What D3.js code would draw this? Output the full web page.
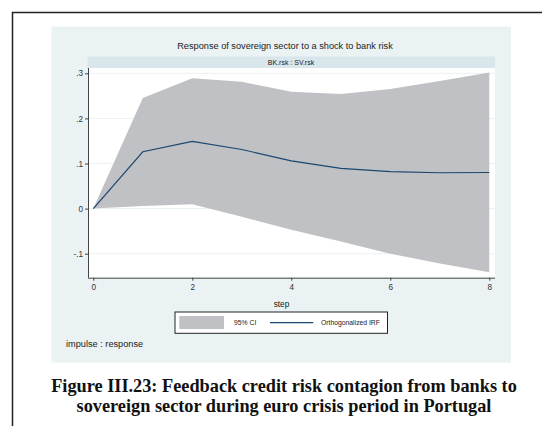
<!DOCTYPE html>
<html>
<head>
<meta charset="utf-8">
<script src="https://cdn.jsdelivr.net/npm/d3@7"></script>
<style>
  body { margin: 0; background: #fff; }
  svg { display: block; }
</style>
</head>
<body>
<svg width="542" height="426"></svg>
<script>
const steps = [0, 1, 2, 3, 4, 5, 6, 7, 8];
const irf = [0, 0.126, 0.149, 0.131, 0.106, 0.089, 0.082, 0.0795, 0.08];
const ciUpper = [0, 0.245, 0.289, 0.281, 0.259, 0.254, 0.265, 0.283, 0.302];
const ciLower = [0, 0.006, 0.0097, -0.018, -0.047, -0.073, -0.1, -0.122, -0.141];
const yTicks = [-0.1, 0, 0.1, 0.2, 0.3];
const yTickLabels = ["-.1", "0", ".1", ".2", ".3"];
const xTicks = [0, 2, 4, 6, 8];

const svg = d3.select("svg");

// page frame
svg.append("path")
    .attr("d", "M12.5,426 V12.5 H542")
    .attr("fill", "none")
    .attr("stroke", "#222")
    .attr("stroke-width", 1.5);

// graph background
svg.append("rect")
    .attr("x", 51.5).attr("y", 26.5)
    .attr("width", 459.5).attr("height", 336)
    .attr("fill", "#eaf2f3");

svg.append("text")
    .attr("x", 285).attr("y", 49)
    .attr("text-anchor", "middle")
    .attr("font-family", "Liberation Sans, Arial, sans-serif")
    .attr("font-size", 9.2)
    .attr("fill", "#222")
    .text("Response of sovereign sector to a shock to bank risk");

// strip
svg.append("rect")
    .attr("x", 87.5).attr("y", 56.5)
    .attr("width", 407.5).attr("height", 11.5)
    .attr("fill", "#d9e6eb");
svg.append("text")
    .attr("x", 291).attr("y", 64.5)
    .attr("text-anchor", "middle")
    .attr("font-family", "Liberation Sans, Arial, sans-serif")
    .attr("font-size", 7)
    .attr("fill", "#222")
    .text("BK.rsk : SV.rsk");

// plot region
svg.append("rect")
    .attr("x", 88).attr("y", 68)
    .attr("width", 407).attr("height", 209.7)
    .attr("fill", "#fff");

const x = d3.scaleLinear().domain([0, 8]).range([93.3, 489.3]);
const y = d3.scaleLinear().domain([-0.1, 0.3]).range([253.7, 73.3]);

// grid
svg.append("g")
    .selectAll("line")
    .data(yTicks)
    .join("line")
    .attr("x1", 88).attr("x2", 495)
    .attr("y1", d => y(d)).attr("y2", d => y(d))
    .attr("stroke", "#eaf2f3")
    .attr("stroke-width", 1);

const data = steps.map((s, i) => ({ s, irf: irf[i], lo: ciLower[i], hi: ciUpper[i] }));

svg.append("path")
    .datum(data)
    .attr("fill", "#c0c1c5")
    .attr("d", d3.area().x(d => x(d.s)).y0(d => y(d.lo)).y1(d => y(d.hi)));

svg.append("path")
    .datum(data)
    .attr("fill", "none")
    .attr("stroke", "#1a476f")
    .attr("stroke-width", 1.2)
    .attr("d", d3.line().x(d => x(d.s)).y(d => y(d.irf)));

// axes
const yAxis = d3.axisLeft(y)
    .tickValues(yTicks)
    .tickFormat((d, i) => yTickLabels[i])
    .tickSize(3)
    .tickPadding(2)
    .tickSizeOuter(0);
const gy = svg.append("g")
    .attr("transform", "translate(88,0)")
    .call(yAxis);
gy.select(".domain").attr("d", "M0.5,68V277.7").attr("stroke", "#444");

const xAxis = d3.axisBottom(x)
    .tickValues(xTicks)
    .tickSize(3)
    .tickPadding(3)
    .tickSizeOuter(0);
const gx = svg.append("g")
    .attr("transform", "translate(0,277.7)")
    .call(xAxis);
gx.select(".domain").attr("d", "M88,0.5H495").attr("stroke", "#444");

[gx, gy].forEach(g => {
  g.selectAll(".tick line").attr("stroke", "#444");
  g.selectAll(".tick text")
    .attr("font-family", "Liberation Sans, Arial, sans-serif")
    .attr("font-size", 8.2)
    .attr("fill", "#333");
});

svg.append("text")
    .attr("x", 281.5).attr("y", 306.5)
    .attr("text-anchor", "middle")
    .attr("font-family", "Liberation Sans, Arial, sans-serif")
    .attr("font-size", 8.3)
    .attr("fill", "#222")
    .text("step");

// legend
const lg = svg.append("g");
lg.append("rect")
    .attr("x", 175).attr("y", 312)
    .attr("width", 212.5).attr("height", 21.3)
    .attr("fill", "#fff")
    .attr("stroke", "#222")
    .attr("stroke-width", 1);
lg.append("rect")
    .attr("x", 179.3).attr("y", 316)
    .attr("width", 44.7).attr("height", 13)
    .attr("fill", "#c0c1c5");
lg.append("text")
    .attr("x", 234).attr("y", 325)
    .attr("font-family", "Liberation Sans, Arial, sans-serif")
    .attr("font-size", 6.8)
    .attr("fill", "#222")
    .text("95% CI");
lg.append("line")
    .attr("x1", 270).attr("x2", 313.3)
    .attr("y1", 322.7).attr("y2", 322.7)
    .attr("stroke", "#1a476f")
    .attr("stroke-width", 1.2);
lg.append("text")
    .attr("x", 321).attr("y", 325)
    .attr("font-family", "Liberation Sans, Arial, sans-serif")
    .attr("font-size", 6.8)
    .attr("fill", "#222")
    .text("Orthogonalized IRF");

svg.append("text")
    .attr("x", 66).attr("y", 347)
    .attr("font-family", "Liberation Sans, Arial, sans-serif")
    .attr("font-size", 9.2)
    .attr("fill", "#222")
    .text("impulse : response");

// caption
const cap = svg.append("text")
    .attr("text-anchor", "middle")
    .attr("font-family", "Liberation Serif, Times New Roman, serif")
    .attr("font-weight", "bold")
    .attr("font-size", 18.3)
    .attr("fill", "#111");
cap.append("tspan").attr("x", 284).attr("y", 392)
    .text("Figure III.23: Feedback credit risk contagion from banks to");
cap.append("tspan").attr("x", 284).attr("y", 412)
    .text("sovereign sector during euro crisis period in Portugal");
</script>
</body>
</html>
